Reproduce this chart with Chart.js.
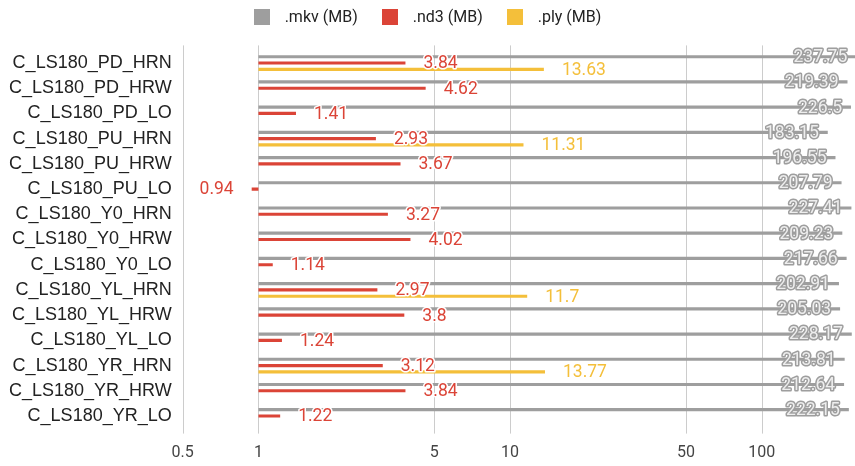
<!DOCTYPE html>
<html>
<head>
<meta charset="utf-8">
<script src="https://cdn.jsdelivr.net/npm/chart.js@4.4.1/dist/chart.umd.min.js"></script>
<style>
  html, body { margin: 0; padding: 0; background: #ffffff; }
  #wrap { width: 855px; height: 466px; position: relative; }
</style>
</head>
<body>
<div id="wrap"><canvas id="chart"></canvas></div>
<script>
// File sizes per capture, in megabytes
const categories = [
  'C_LS180_PD_HRN', 'C_LS180_PD_HRW', 'C_LS180_PD_LO',
  'C_LS180_PU_HRN', 'C_LS180_PU_HRW', 'C_LS180_PU_LO',
  'C_LS180_Y0_HRN', 'C_LS180_Y0_HRW', 'C_LS180_Y0_LO',
  'C_LS180_YL_HRN', 'C_LS180_YL_HRW', 'C_LS180_YL_LO',
  'C_LS180_YR_HRN', 'C_LS180_YR_HRW', 'C_LS180_YR_LO'
];
const mkvSizes = [237.75, 219.39, 226.5, 183.15, 196.55, 207.79, 227.41, 209.23, 217.66, 202.91, 205.03, 228.17, 213.81, 212.64, 222.15];
const nd3Sizes = [3.84, 4.62, 1.41, 2.93, 3.67, 0.94, 3.27, 4.02, 1.14, 2.97, 3.8, 1.24, 3.12, 3.84, 1.22];
const plySizes = [13.63, null, null, 11.31, null, null, null, null, null, 11.7, null, null, 13.77, null, null];
const seriesNames = ['.mkv (MB)', '.nd3 (MB)', '.ply (MB)'];
const axisTicks = [0.5, 1, 5, 10, 50, 100];

const GRAY = '#9e9e9e';
const RED = '#db4437';
const YELLOW = '#f4bf3a';
const VALUE_FONT = '17.5px Roboto';

// Legend drawn across the top, centred on the canvas
const topLegend = {
  id: 'topLegend',
  afterDraw(chart) {
    const ctx = chart.ctx;
    const box = 16, textGap = 15, itemGap = 24, cy = 17;
    ctx.save();
    ctx.font = '16px Roboto';
    ctx.textBaseline = 'middle';
    const items = chart.data.datasets.map(ds => ({
      text: ds.label, color: ds.backgroundColor, w: ctx.measureText(ds.label).width
    }));
    const total = items.reduce((s, it) => s + box + textGap + it.w, 0) + itemGap * (items.length - 1);
    let x = chart.width / 2 - total / 2;
    items.forEach(it => {
      ctx.fillStyle = it.color;
      ctx.fillRect(Math.round(x), cy - box / 2, box, box);
      ctx.fillStyle = '#222222';
      ctx.textAlign = 'left';
      ctx.fillText(it.text, x + box + textGap, cy + 1);
      x += box + textGap + it.w + itemGap;
    });
    ctx.restore();
  }
};

// Vertical grid lines at the tick values, running slightly past the plot area
const logGrid = {
  id: 'logGrid',
  beforeDatasetsDraw(chart) {
    const ctx = chart.ctx;
    const xs = chart.scales.x;
    const { top, bottom } = chart.chartArea;
    ctx.save();
    ctx.strokeStyle = '#cccccc';
    ctx.lineWidth = 1;
    xs.ticks.forEach(t => {
      const px = Math.round(xs.getPixelForValue(t.value)) + 0.5;
      ctx.beginPath();
      ctx.moveTo(px, top - 5);
      ctx.lineTo(px, bottom + 5);
      ctx.stroke();
    });
    ctx.restore();
  }
};

// Value annotations at the end of every bar
const valueLabels = {
  id: 'valueLabels',
  afterDatasetsDraw(chart) {
    const ctx = chart.ctx;
    ctx.save();
    ctx.font = VALUE_FONT;
    ctx.textBaseline = 'middle';
    ctx.lineJoin = 'round';
    chart.data.datasets.forEach((ds, di) => {
      const meta = chart.getDatasetMeta(di);
      meta.data.forEach((bar, i) => {
        const v = ds.data[i];
        if (v === null || v === undefined) return;
        const text = String(v);
        const y = bar.y + 1;
        if (ds.labelInside) {
          ctx.textAlign = 'right';
          const x = bar.x - 9;
          ctx.lineWidth = 3;
          ctx.strokeStyle = ds.backgroundColor;
          ctx.strokeText(text, x, y);
          ctx.fillStyle = '#eeeeee';
          ctx.fillText(text, x, y);
        } else {
          const right = bar.x >= bar.base;
          ctx.textAlign = right ? 'left' : 'right';
          const x = right ? bar.x + 18 : bar.x - 18;
          ctx.lineWidth = 3;
          ctx.strokeStyle = '#ffffff';
          ctx.strokeText(text, x, y);
          ctx.fillStyle = ds.backgroundColor;
          ctx.fillText(text, x, y);
        }
      });
    });
    ctx.restore();
  }
};

new Chart(document.getElementById('chart'), {
  type: 'bar',
  data: {
    labels: categories,
    datasets: [
      { label: seriesNames[0], data: mkvSizes, backgroundColor: GRAY, labelInside: true },
      { label: seriesNames[1], data: nd3Sizes, backgroundColor: RED },
      { label: seriesNames[2], data: plySizes, backgroundColor: YELLOW }
    ]
  },
  options: {
    indexAxis: 'y',
    responsive: true,
    maintainAspectRatio: false,
    animation: false,
    datasets: {
      bar: { base: 1, categoryPercentage: 0.75, barPercentage: 0.5, borderWidth: 0 }
    },
    layout: { padding: { top: 50.4, right: 0, bottom: 0, left: 0 } },
    scales: {
      x: {
        type: 'logarithmic',
        min: 0.5,
        max: 235,
        afterBuildTicks(scale) { scale.ticks = axisTicks.map(v => ({ value: v })); },
        afterFit(scale) { scale.height = 37.4; },
        grid: { display: false, drawTicks: false },
        border: { display: false },
        ticks: {
          autoSkip: false, maxRotation: 0, padding: 15,
          color: '#444444',
          font: { family: 'Roboto', size: 16 },
          callback: v => String(v)
        }
      },
      y: {
        afterFit(scale) { scale.width = 182.7; },
        grid: { display: false, drawTicks: false },
        border: { display: false },
        ticks: {
          padding: 11,
          color: '#222222',
          font: { family: 'Liberation Sans', size: 18 }
        }
      }
    },
    plugins: {
      legend: { display: false },
      tooltip: { enabled: false }
    }
  },
  plugins: [logGrid, valueLabels, topLegend]
});
</script>
</body>
</html>
